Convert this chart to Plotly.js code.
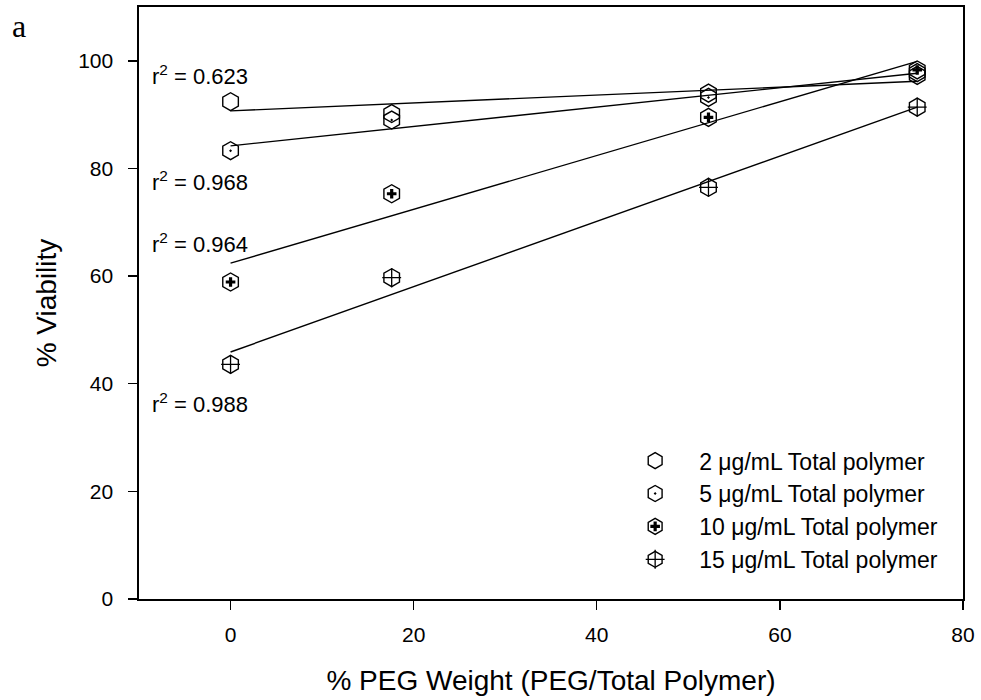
<!DOCTYPE html>
<html>
<head>
<meta charset="utf-8">
<script src="https://cdn.plot.ly/plotly-3.0.1.min.js"></script>
<style>body{margin:0;padding:0;background:#fff;}#chart{width:981px;height:700px;}</style>
</head>
<body>
<div id="chart"></div>
<script>
// ---- data ----
const pegWeight = [0, 17.6, 52.2, 75];
const seriesNames = [
  "2 \u03BCg/mL Total polymer",
  "5 \u03BCg/mL Total polymer",
  "10 \u03BCg/mL Total polymer",
  "15 \u03BCg/mL Total polymer"
];
const viability2 = [92.4, 90.2, 94.0, 97.3];
const viability5 = [83.3, 89.0, 93.2, 97.8];
const viability10 = [58.9, 75.3, 89.5, 98.3];
const viability15 = [43.6, 59.7, 76.5, 91.4];

// regression line end points (at x = 0 and x = 75)
const fitX = [0, 75];
const fit2 = [90.7, 96.2];
const fit5 = [84.2, 97.7];
const fit10 = [62.4, 99.9];
const fit15 = [45.9, 91.4];

const r2Labels = ["r<sup>2</sup> = 0.623", "r<sup>2</sup> = 0.968", "r<sup>2</sup> = 0.964", "r<sup>2</sup> = 0.988"];
const r2LabelY = [97.4, 77.7, 66.2, 36.4];

const xTicks = [0, 20, 40, 60, 80];
const yTicks = [0, 20, 40, 60, 80, 100];

const allViab = [viability2, viability5, viability10, viability15];
const allFits = [fit2, fit5, fit10, fit15];
const hexSymbols = ["hexagon-open", "hexagon-open-dot", "hexagon-open", "hexagon-open"];

const FONT = "Liberation Sans, Arial, sans-serif";
const traces = [];
const MS = 18;
// regression lines
allFits.forEach((f, i) => {
  traces.push({x: fitX, y: f, mode: "lines", type: "scatter", showlegend: false,
    line: {color: "#000", width: 1.4}, hoverinfo: "skip"});
});
// hexagon markers (legend 1)
allViab.forEach((v, i) => {
  traces.push({x: pegWeight, y: v, mode: "markers", type: "scatter", name: seriesNames[i],
    legend: "legend", legendgroup: "g" + i,
    marker: {symbol: hexSymbols[i], size: MS, color: "#000", line: {color: "#000", width: 1.4}}});
});
// inner marks (legend 2, overlapping legend 1)
const innerSym = ["circle", "circle", "cross", "cross-thin-open"];
const innerSize = [MS, MS, 8, 13.5];
const innerColor = ["rgba(0,0,0,0)", "rgba(0,0,0,0)", "#000", "#000"];
allViab.forEach((v, i) => {
  traces.push({x: pegWeight, y: v, mode: "markers", type: "scatter", name: seriesNames[i],
    legend: "legend2", legendgroup: "g" + i,
    marker: {symbol: innerSym[i], size: innerSize[i], color: innerColor[i],
      line: {color: innerColor[i], width: i === 3 ? 1.3 : 0}}});
});

const annotations = r2Labels.map((t, i) => ({
  x: -8.8, y: r2LabelY[i], xref: "x", yref: "y", text: t, showarrow: false,
  xanchor: "left", yanchor: "middle", font: {family: FONT, size: 22, color: "#000"}
}));
annotations.push({x: -0.157, y: 0.968, xref: "paper", yref: "paper", text: "a", showarrow: false,
  xanchor: "left", yanchor: "middle", font: {family: "Liberation Serif, Times New Roman, serif", size: 32, color: "#000"}});

const legendBase = {
  x: 0.573, y: 0.270, xanchor: "left", yanchor: "top",
  bgcolor: "rgba(0,0,0,0)", borderwidth: 0,
  itemwidth: 78, tracegroupgap: 0, traceorder: "grouped",
  font: {family: FONT, size: 23, color: "#000"}
};

const layout = {
  width: 981, height: 700,
  margin: {l: 139, r: 18, t: 7, b: 101},
  paper_bgcolor: "#fff", plot_bgcolor: "#fff",
  showlegend: true,
  xaxis: {range: [-10, 80], tickvals: xTicks, ticks: "outside", ticklen: 9, tickwidth: 1.4,
    tickcolor: "#000", showline: true, linecolor: "#000", linewidth: 1.6, mirror: true,
    showgrid: false, zeroline: false, ticklabelstandoff: 7,
    tickfont: {family: FONT, size: 21, color: "#000"},
    title: {text: "% PEG Weight (PEG/Total Polymer)", standoff: 25,
      font: {family: FONT, size: 28, color: "#000"}}},
  yaxis: {range: [0, 110], tickvals: yTicks, ticks: "outside", ticklen: 9, tickwidth: 1.4,
    tickcolor: "#000", showline: true, linecolor: "#000", linewidth: 1.6, mirror: true,
    showgrid: false, zeroline: false, ticklabelstandoff: 11,
    tickfont: {family: FONT, size: 21, color: "#000"},
    title: {text: "% Viability", standoff: 13,
      font: {family: FONT, size: 28, color: "#000"}}},
  legend: Object.assign({}, legendBase),
  legend2: Object.assign({}, legendBase, {font: {family: FONT, size: 23, color: "rgba(0,0,0,0)"}}),
  annotations: annotations
};

Plotly.newPlot("chart", traces, layout, {displayModeBar: false, staticPlot: true});
</script>
</body>
</html>
